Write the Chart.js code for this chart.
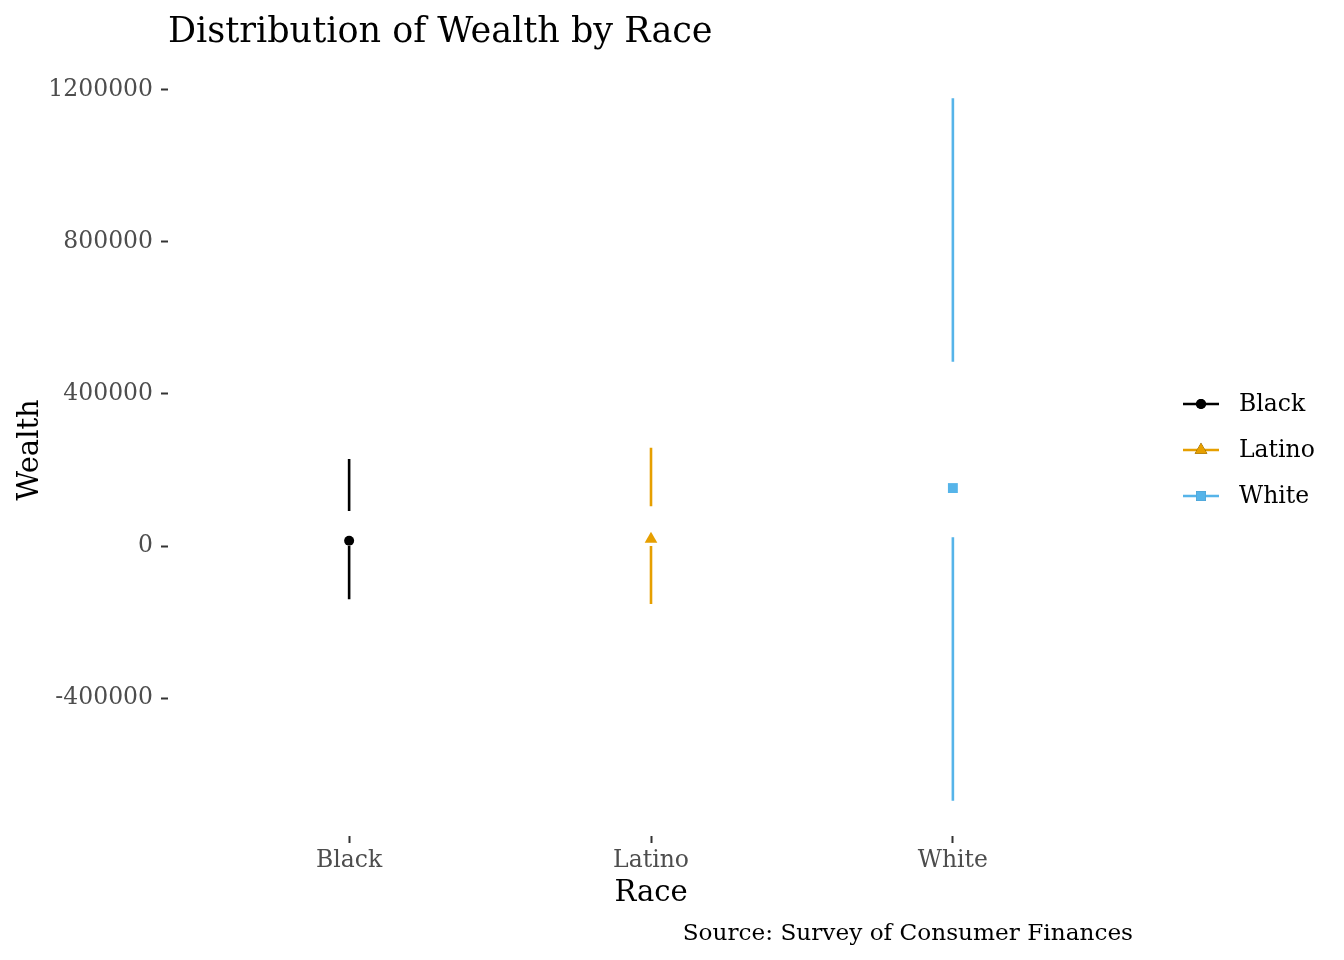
<!DOCTYPE html>
<html lang="en">
<head>
    <meta charset="UTF-8">
    <title>Distribution of Wealth by Race</title>
    <script src="https://cdn.jsdelivr.net/npm/chart.js"></script>
    <style>
        html, body { margin: 0; padding: 0; background: #ffffff; }
        #wrap { width: 1344px; height: 960px; position: relative; }
    </style>
</head>
<body>
    <div id="wrap"><canvas id="wealthChart" width="1344" height="960"></canvas></div>
    <script>
        // values (Tufte-style box summary per group)
        const races = ['Black', 'Latino', 'White'];
        const whiskerLow = [-139500, -152600, -670000];
        const hingeLow = [0, 0, 23000];
        const medians = [14000, 18400, 152600];
        const hingeHigh = [92000, 105000, 485000];
        const whiskerHigh = [229000, 258700, 1178000];
        const yTicks = [-400000, 0, 400000, 800000, 1200000];

        const colors = ['#000000', '#E69F00', '#56B4E9'];
        const shapes = ['circle', 'triangle', 'rect'];
        const radii = [5, 7.3, 7];
        const serif = "'DejaVu Serif', serif";

        const datasets = [];
        races.forEach((race, i) => {
            const x = i + 1;
            datasets.push({
                label: race + ' range',
                data: [
                    { x: x, y: whiskerLow[i] },
                    { x: x, y: hingeLow[i] },
                    { x: x, y: null },
                    { x: x, y: hingeHigh[i] },
                    { x: x, y: whiskerHigh[i] }
                ],
                showLine: true,
                spanGaps: false,
                borderColor: colors[i],
                borderWidth: 2.6,
                pointRadius: 0,
                pointHoverRadius: 0
            });
            datasets.push({
                label: race,
                data: [{ x: x, y: medians[i] }],
                showLine: false,
                pointStyle: shapes[i],
                pointRadius: radii[i],
                pointBackgroundColor: colors[i],
                pointBorderColor: colors[i],
                pointBorderWidth: 0
            });
        });

        // titles, caption and legend drawn around the plot area
        const decorations = {
            id: 'decorations',
            afterDraw(chart) {
                const ctx = chart.ctx;
                const area = chart.chartArea;
                ctx.save();
                ctx.fillStyle = '#000000';

                ctx.font = '35px ' + serif;
                ctx.textAlign = 'left';
                ctx.textBaseline = 'alphabetic';
                ctx.fillText('Distribution of Wealth by Race', 168, 42);

                ctx.font = '29px ' + serif;
                ctx.textAlign = 'center';
                ctx.fillText('Race', (area.left + area.right) / 2, 901);

                ctx.save();
                ctx.translate(38, 450);
                ctx.rotate(-Math.PI / 2);
                ctx.fillText('Wealth', 0, 0);
                ctx.restore();

                ctx.font = '23.2px ' + serif;
                ctx.textAlign = 'right';
                ctx.fillText('Source: Survey of Consumer Finances', 1133, 940);

                // legend: line with marker, like the ggplot key
                const rows = [404, 450, 496];
                races.forEach((race, i) => {
                    const y = rows[i];
                    ctx.strokeStyle = colors[i];
                    ctx.lineWidth = 2.6;
                    ctx.beginPath();
                    ctx.moveTo(1183, y);
                    ctx.lineTo(1219, y);
                    ctx.stroke();
                    Chart.helpers.drawPoint(ctx, {
                        pointStyle: shapes[i],
                        radius: radii[i],
                        borderWidth: 0,
                        rotation: 0
                    }, 1201, y);
                    ctx.fillStyle = colors[i];
                    ctx.fill();
                    ctx.fillStyle = '#000000';
                    ctx.font = '23.5px ' + serif;
                    ctx.textAlign = 'left';
                    ctx.textBaseline = 'middle';
                    ctx.fillText(race, 1239, y + 1);
                });
                ctx.restore();
            }
        };

        const ctx = document.getElementById('wealthChart').getContext('2d');
        const chart = new Chart(ctx, {
            type: 'scatter',
            data: { datasets: datasets },
            plugins: [decorations],
            options: {
                responsive: false,
                animation: false,
                layout: { padding: { left: 0, right: 210, top: 63, bottom: 64 } },
                plugins: {
                    legend: { display: false },
                    tooltip: { enabled: false },
                    title: { display: false }
                },
                scales: {
                    x: {
                        type: 'linear',
                        min: 0.4,
                        max: 3.6,
                        afterBuildTicks: (scale) => {
                            scale.ticks = races.map((r, i) => ({ value: i + 1 }));
                        },
                        afterFit: (scale) => { scale.height = 60; },
                        border: { display: false },
                        grid: {
                            drawOnChartArea: false,
                            drawTicks: true,
                            tickLength: 7,
                            tickWidth: 2,
                            tickColor: '#333333'
                        },
                        ticks: {
                            autoSkip: false,
                            maxRotation: 0,
                            padding: 4,
                            color: '#4D4D4D',
                            font: { family: serif, size: 23.5 },
                            callback: (value) => races[value - 1]
                        }
                    },
                    y: {
                        min: -762400,
                        max: 1270400,
                        afterBuildTicks: (scale) => {
                            scale.ticks = yTicks.map(v => ({ value: v }));
                        },
                        afterFit: (scale) => { scale.width = 168; },
                        border: { display: false },
                        grid: {
                            drawOnChartArea: false,
                            drawTicks: true,
                            tickLength: 7,
                            tickWidth: 2,
                            tickColor: '#333333'
                        },
                        ticks: {
                            padding: 8,
                            color: '#4D4D4D',
                            font: { family: serif, size: 23.5 },
                            callback: (value) => String(value)
                        }
                    }
                }
            }
        });
    </script>
</body>
</html>
